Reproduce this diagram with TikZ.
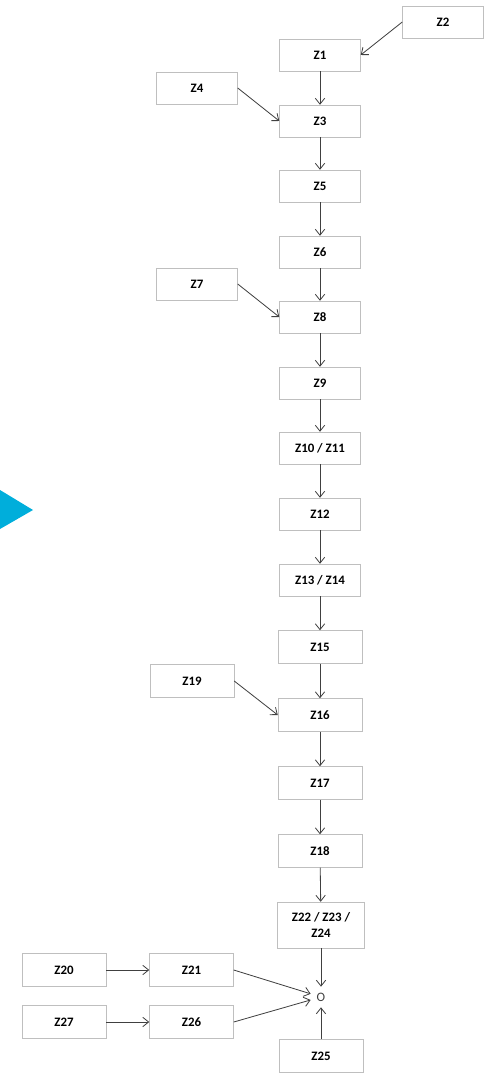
\documentclass[tikz,border=0pt]{standalone}
\usepackage{fontspec}
\setmainfont{Carlito}
\usetikzlibrary{arrows.meta}
\definecolor{zline}{RGB}{191,191,191}
\definecolor{zarrow}{RGB}{64,64,64}
\definecolor{zblue}{RGB}{0,174,219}
\tikzset{
  zbox/.style={draw=zline, fill=white, minimum width=2.43cm, minimum height=0.96cm, font=\bfseries\fontsize{11}{13}\selectfont, inner sep=1pt},
  zwide/.style={zbox, minimum width=2.52cm, minimum height=0.99cm},
  zarr/.style={draw=zarrow, line width=0.7pt, -{Straight Barb[length=5pt,width=8pt]}}
}
\begin{document}
\begin{tikzpicture}[x=0.03cm, y=-0.03cm]
  \useasboundingbox (0,0) rectangle (487,1077);
  \fill[zblue] (0,490) -- (33,510) -- (0,529) -- cycle;
  % main chain
  \node[zbox] (z2) at (443,22) {Z2};
  \node[zbox] (z1) at (320,55) {Z1};
  \node[zbox] (z4) at (197,88) {Z4};
  \node[zbox] (z3) at (320,121) {Z3};
  \node[zbox] (z5) at (320,186) {Z5};
  \node[zbox] (z6) at (320,252) {Z6};
  \node[zbox] (z7) at (197,284) {Z7};
  \node[zbox] (z8) at (320,317) {Z8};
  \node[zbox] (z9) at (320,383) {Z9};
  \node[zbox] (z10) at (320,448) {Z10 / Z11};
  \node[zbox] (z12) at (320,514) {Z12};
  \node[zbox] (z13) at (320,580) {Z13 / Z14};
  \node[zwide] (z15) at (320,647) {Z15};
  \node[zwide] (z19) at (192,681) {Z19};
  \node[zwide] (z16) at (320,715) {Z16};
  \node[zwide] (z17) at (320,783) {Z17};
  \node[zwide] (z18) at (320,851) {Z18};
  \node[zwide, minimum width=2.61cm, minimum height=1.38cm, align=center] (z22) at (321,925) {Z22 / Z23 /\\Z24};
  % bottom
  \node[font=\fontsize{11}{12}\selectfont, text=zarrow, inner sep=5pt] (o) at (321,997) {O};
  \node[zwide] (z20) at (64,970) {Z20};
  \node[zwide] (z21) at (191.5,970) {Z21};
  \node[zwide] (z27) at (64,1022) {Z27};
  \node[zwide] (z26) at (191.5,1022) {Z26};
  \node[zwide] (z25) at (321,1056) {Z25};
  \foreach \a/\b in {z1/z3, z3/z5, z5/z6, z6/z8, z8/z9, z9/z10, z10/z12, z12/z13, z13/z15, z15/z16, z16/z17, z17/z18, z18/z22}
    \draw[zarr] (\a) -- (\b);
  \draw[zarr] (z22.south) -- (o.north);
  \draw[zarr] (z25.north) -- (o.south);
  \draw[zarr] (z2.west) -- (z1.east);
  \draw[zarr] (z4.east) -- (z3.west);
  \draw[zarr] (z7.east) -- (z8.west);
  \draw[zarr] (z19.east) -- (z16.west);
  \draw[zarr] (z20) -- (z21);
  \draw[zarr] (z27) -- (z26);
  \draw[zarr] (z21.east) -- (o);
  \draw[zarr] (z26.east) -- (o);
\end{tikzpicture}
\end{document}
